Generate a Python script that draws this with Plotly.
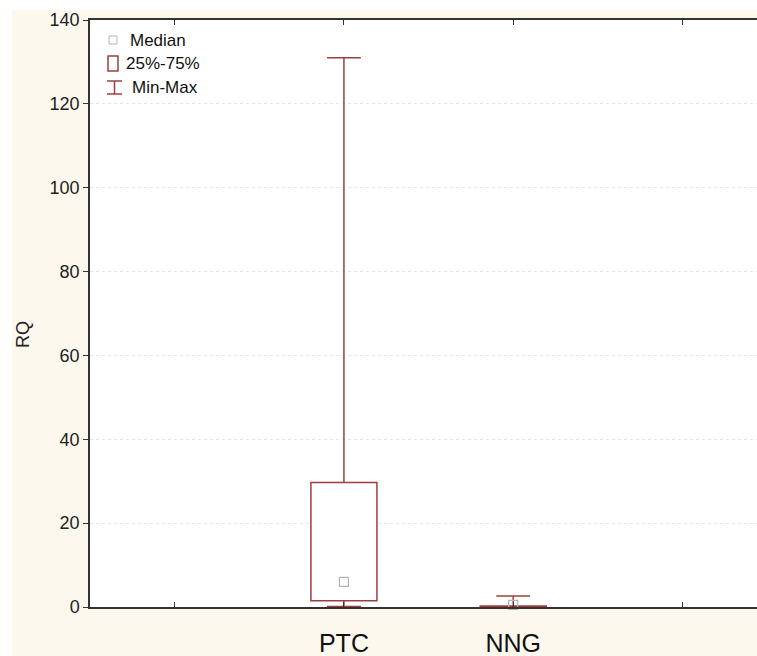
import plotly.graph_objects as go

categories = ["PTC", "NNG"]
mins = [0.1, 0.0]
q1 = [1.5, 0.05]
medians = [6.0, 0.5]
q3 = [29.7, 0.25]
maxs = [131.0, 2.6]
y_ticks = [0, 20, 40, 60, 80, 100, 120, 140]

RED = "#9b3f3f"
pos = [i + 1 for i in range(len(categories))]
cap = 0.1

fig = go.Figure()
# boxes (25%-75%)
fig.add_trace(go.Bar(x=pos, base=q1, y=[b - a for a, b in zip(q1, q3)], width=0.39,
                     marker=dict(color="white", line=dict(color=RED, width=1.5)),
                     showlegend=False, hoverinfo="skip"))
# whiskers
wx, wy = [], []
for p, lo, a, b, hi in zip(pos, mins, q1, q3, maxs):
    wx += [p, p, None, p, p, None]
    wy += [b, hi, None, lo, a, None]
fig.add_trace(go.Scatter(x=wx, y=wy, mode="lines", line=dict(color=RED, width=1.5),
                         showlegend=False, hoverinfo="skip"))
# caps
cx, cy = [], []
for p, lo, hi in zip(pos, mins, maxs):
    cx += [p - cap, p + cap, None, p - cap, p + cap, None]
    cy += [hi, hi, None, lo, lo, None]
fig.add_trace(go.Scatter(x=cx, y=cy, mode="lines", line=dict(color=RED, width=1.5),
                         showlegend=False, hoverinfo="skip", cliponaxis=False))
# medians
fig.add_trace(go.Scatter(x=pos, y=medians, mode="markers",
                         marker=dict(symbol="square-open", size=9, color="#b5b5b5", line=dict(width=1.2)),
                         showlegend=False, cliponaxis=False))

W, H = 757, 656
L, T, R, B = 90, 20, 0, 49
pw, ph = W - L - R, H - T - B
def px(x): return (x - L) / pw
def py(y): return (H - B - y) / ph

shapes = [
    dict(type="rect", xref="paper", yref="paper", x0=px(0), x1=px(12), y0=py(656), y1=py(0),
         fillcolor="white", line=dict(width=0), layer="below"),
    dict(type="rect", xref="paper", yref="paper", x0=px(0), x1=px(757), y0=py(10), y1=py(0),
         fillcolor="white", line=dict(width=0), layer="below"),
    # legend icons
    dict(type="rect", xref="paper", yref="paper", x0=px(109), x1=px(117), y0=py(44), y1=py(36),
         fillcolor="rgba(0,0,0,0)", line=dict(color="#b5b5b5", width=1)),
    dict(type="rect", xref="paper", yref="paper", x0=px(108), x1=px(118), y0=py(71), y1=py(56),
         fillcolor="rgba(0,0,0,0)", line=dict(color=RED, width=1.5)),
    dict(type="line", xref="paper", yref="paper", x0=px(107), x1=px(122), y0=py(81), y1=py(81),
         line=dict(color=RED, width=1.5)),
    dict(type="line", xref="paper", yref="paper", x0=px(107), x1=px(122), y0=py(94), y1=py(94),
         line=dict(color=RED, width=1.5)),
    dict(type="line", xref="paper", yref="paper", x0=px(114.5), x1=px(114.5), y0=py(81), y1=py(94),
         line=dict(color=RED, width=1.5)),
]
annotations = [
    dict(text="Median", x=px(128), y=py(40), xref="paper", yref="paper", xanchor="left",
         yanchor="middle", showarrow=False, font=dict(size=17, color="#111")),
    dict(text="25%-75%", x=px(124), y=py(64), xref="paper", yref="paper", xanchor="left",
         yanchor="middle", showarrow=False, font=dict(size=17, color="#111")),
    dict(text="Min-Max", x=px(130), y=py(88), xref="paper", yref="paper", xanchor="left",
         yanchor="middle", showarrow=False, font=dict(size=17, color="#111")),
    dict(text="RQ", x=px(23), y=py(335), xref="paper", yref="paper", xanchor="center",
         yanchor="middle", showarrow=False, textangle=-90, font=dict(size=18, color="#222")),
]

fig.update_layout(
    width=W, height=H, margin=dict(l=L, r=R, t=T, b=B, autoexpand=False),
    paper_bgcolor="#fcf8ee", plot_bgcolor="white",
    font=dict(family="Liberation Sans, Arial, sans-serif", color="#222"),
    shapes=shapes, annotations=annotations, showlegend=False,
    xaxis=dict(range=[-0.5, 3.44], tickvals=[0, 1, 2, 3], ticktext=["", categories[0], categories[1], ""],
               showgrid=False, zeroline=False, showline=True, linecolor="#333", linewidth=1.5,
               mirror="ticks", ticks="inside", ticklen=5, tickcolor="#333",
               tickfont=dict(size=25, color="#111"), ticklabelstandoff=13),
    yaxis=dict(range=[0, 140], tickvals=y_ticks, showgrid=True, gridcolor="#e6e6e6", griddash="dot",
               zeroline=False, showline=True, linecolor="#333", linewidth=1.5, mirror=True,
               ticks="outside", ticklen=5, tickcolor="#333", tickfont=dict(size=18, color="#222")),
)
fig.write_html("out.html")
